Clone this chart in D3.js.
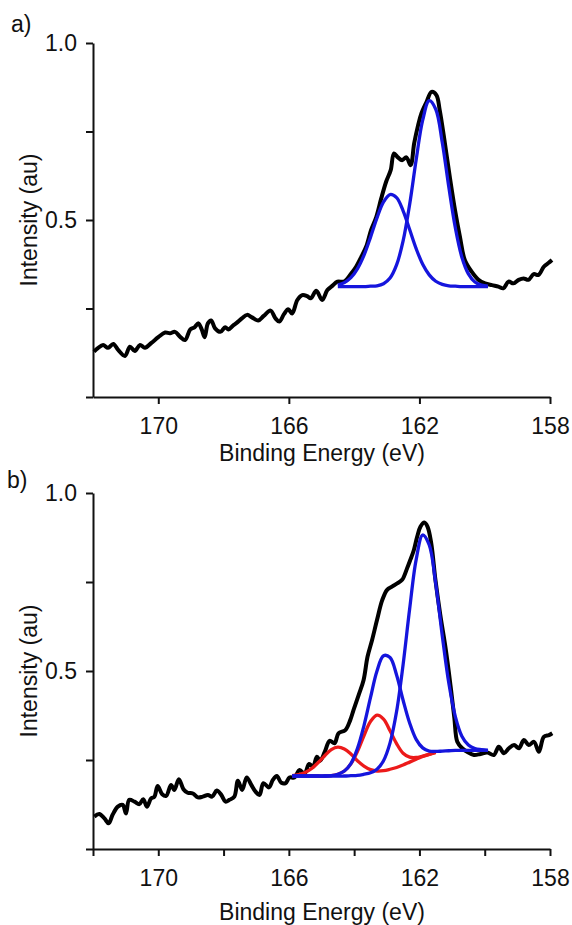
<!DOCTYPE html>
<html>
<head>
	<meta charset="UTF-8" />
	<title>XPS S 2p</title>
	<script src="https://d3js.org/d3.v7.min.js"></script>
	<style>
		body { margin: 0; background: #fff; }
		text { font-family: "Liberation Sans", Arial, sans-serif; }
	</style>
</head>
<body>
	<svg id="chart" style="width:572px; height:925px"></svg>

	<script type="text/javascript">

	//========================================================================
	// data
	//========================================================================
	var xLabelTicks = [170, 166, 162, 158]
	var xMinorTicksB = [172, 170, 168, 166, 164, 162, 160, 158]
	var yTicks = [0, 0.25, 0.5, 0.75, 1.0]
	var yLabelTicks = [0.5, 1.0]

	// panel a, measured spectrum
	var energyA = [171.97,171.85,171.69,171.54,171.38,171.23,171.02,170.87,170.72,170.56,
		170.41,170.21,170.00,169.79,169.64,169.49,169.33,169.18,169.02,168.89,
		168.77,168.67,168.58,168.48,168.38,168.26,168.10,167.95,167.85,167.72,
		167.59,167.44,167.28,167.13,166.94,166.77,166.56,166.41,166.29,166.15,
		166.02,165.90,165.74,165.59,165.44,165.33,165.16,164.98,164.82,164.67,
		164.51,164.31,164.09,163.94,163.78,163.63,163.48,163.32,163.17,163.02,
		162.88,162.78,162.66,162.53,162.40,162.27,162.16,162.04,161.94,161.78,
		161.63,161.48,161.38,161.22,161.07,160.91,160.76,160.61,160.40,160.19,
		159.99,159.78,159.58,159.43,159.27,159.12,158.96,158.81,158.66,158.50,
		158.35,158.19,158.04,157.94]
	var intensityA = [.128,.138,.147,.139,.150,.133,.116,.142,.130,.147,
		.139,.153,.169,.182,.180,.184,.170,.161,.191,.197,
		.208,.191,.169,.208,.216,.194,.184,.197,.191,.201,
		.210,.222,.232,.225,.216,.229,.244,.222,.213,.234,
		.248,.236,.274,.288,.285,.279,.300,.274,.302,.314,
		.326,.326,.349,.368,.396,.425,.472,.509,.561,.608,
		.641,.688,.677,.669,.677,.655,.717,.768,.801,.834,
		.862,.853,.811,.717,.622,.528,.453,.387,.354,.331,
		.321,.316,.312,.307,.326,.321,.331,.335,.331,.347,
		.345,.368,.379,.387]

	// panel a, fitted components
	var fitEnergyA = [164.5,164.3,164.1,163.9,163.7,163.5,163.3,163.1,162.9,162.7,162.5,162.3,
		162.1,161.9,161.7,161.5,161.3,161.1,160.9,160.7,160.5,160.3,160.1,159.9]
	var fitA1 = [.312,.312,.312,.312,.312,.313,.314,.320,.336,.373,.441,.544,
		.670,.782,.837,.813,.719,.593,.478,.395,.348,.325,.316,.313]
	var fitA2 = [.316,.323,.337,.362,.400,.451,.506,.551,.572,.563,.526,.473,
		.419,.375,.345,.327,.318,.314,.313,.312,.312,.312,.312,.312]

	// panel b, measured spectrum
	var energyB = [171.96,171.81,171.65,171.52,171.40,171.24,171.09,170.99,170.89,170.73,
		170.58,170.46,170.35,170.22,170.12,170.02,169.88,169.76,169.61,169.51,
		169.37,169.23,169.10,168.94,168.79,168.64,168.48,168.35,168.21,168.07,
		167.94,167.82,167.67,167.56,167.43,167.29,167.15,167.02,166.90,166.78,
		166.61,166.49,166.37,166.23,166.10,165.98,165.83,165.67,165.52,165.38,
		165.26,165.14,165.04,164.90,164.75,164.60,164.48,164.27,164.12,164.02,
		163.86,163.71,163.59,163.45,163.30,163.14,162.99,162.84,162.68,162.53,
		162.38,162.28,162.17,162.07,161.97,161.85,161.75,161.64,161.51,161.36,
		161.20,161.05,160.93,160.84,160.69,160.54,160.33,160.13,159.92,159.72,
		159.57,159.41,159.26,159.10,158.95,158.80,158.65,158.49,158.34,158.19,
		158.03,157.93]
	var intensityB = [.091,.098,.086,.072,.096,.119,.124,.100,.138,.133,
		.126,.140,.119,.142,.147,.177,.154,.149,.180,.166,
		.196,.168,.158,.156,.145,.147,.152,.147,.164,.152,
		.133,.138,.147,.192,.166,.201,.180,.161,.152,.185,
		.173,.194,.205,.186,.185,.201,.201,.222,.211,.239,
		.231,.259,.248,.273,.304,.297,.325,.334,.362,.390,
		.433,.475,.540,.587,.643,.699,.728,.737,.746,.756,
		.788,.812,.840,.877,.905,.917,.905,.860,.756,.657,
		.565,.461,.368,.301,.283,.273,.264,.267,.271,.264,
		.287,.269,.283,.292,.283,.306,.292,.301,.273,.315,
		.320,.325]

	// panel b, fitted components (blue pair, red pair)
	var fitEnergyB = [165.9,165.7,165.5,165.3,165.1,164.9,164.7,164.5,164.3,164.1,163.9,
		163.7,163.5,163.3,163.1,162.9,162.7,162.5,162.3,162.1,161.9,161.7,161.5,
		161.3,161.1,160.9,160.7,160.5,160.3,160.1,159.9]
	var fitB1 = [.205,.205,.205,.205,.205,.205,.205,.205,.205,.206,.207,
		.210,.214,.224,.248,.298,.386,.518,.674,.813,.882,.854,.745,
		.599,.466,.372,.317,.292,.282,.279,.277]
	var fitB2 = [.205,.205,.205,.205,.205,.205,.206,.210,.219,.240,.282,
		.346,.425,.500,.543,.538,.489,.418,.354,.308,.284,.275,.274,
		.275,.276,.277,.277,.277,.277,.277,.277]
	var fitB3 = [.205,.205,.205,.205,.205,.205,.206,.210,.219,.239,.274,
		.318,.358,.376,.365,.332,.296,.269,.258,.257,.261,.266,.271]
	var fitB4 = [.206,.209,.215,.226,.243,.262,.279,.286,.281,.267,.248,
		.233,.223,.219,.220,.224,.229,.236,.244,.252,.260,.266,.271]

	//========================================================================
	// drawing
	//========================================================================
	var svg = d3.select("#chart")
	var blue = "#1515dd"
	var red = "#ec1a1a"
	var fontSize = "23px"

	function zip(xs, ys) {
		return ys.map((v, i) => [xs[i], v])
	}

	function panel(opt) {
		var x = d3.scaleLinear().domain([172, 158]).range([93, 550])
		var y = d3.scaleLinear().domain([0, 1]).range([opt.bottom, opt.top])
		var g = svg.append("g")

		var line = d3.line()
			.x(d => x(d[0]))
			.y(d => y(d[1]))
			.curve(d3.curveCatmullRom.alpha(0.5))

		// axes
		var xAxis = d3.axisBottom(x)
			.tickValues(opt.xTicks)
			.tickSize(7)
			.tickSizeOuter(0)
			.tickPadding(14)
			.tickFormat(d => xLabelTicks.includes(d) ? d : "")
		g.append("g")
			.attr("transform", "translate(0," + opt.bottom + ")")
			.call(xAxis)

		var yAxis = d3.axisLeft(y)
			.tickValues(yTicks)
			.tickSize(7)
			.tickSizeOuter(0)
			.tickPadding(9)
			.tickFormat(d => yLabelTicks.includes(d) ? d3.format(".1f")(d) : "")
		g.append("g")
			.attr("transform", "translate(93,0)")
			.call(yAxis)

		g.selectAll(".domain, .tick line")
			.attr("stroke", "#111")
			.attr("stroke-width", 2)
		g.selectAll(".tick text")
			.attr("fill", "#111")
			.style("font-size", fontSize)
			.style("font-family", "'Liberation Sans', Arial, sans-serif")

		// spectrum
		g.append("path")
			.datum(zip(opt.energy, opt.intensity))
			.attr("d", line)
			.attr("fill", "none")
			.attr("stroke", "#000")
			.attr("stroke-width", 4)
			.attr("stroke-linejoin", "round")

		// fitted components
		opt.fits.forEach(f => {
			g.append("path")
				.datum(zip(opt.fitEnergy, f.values))
				.attr("d", line)
				.attr("fill", "none")
				.attr("stroke", f.color)
				.attr("stroke-width", 3.3)
		})

		// titles
		g.append("text")
			.attr("x", 322)
			.attr("y", opt.bottom + opt.titleGap)
			.attr("text-anchor", "middle")
			.style("font-size", fontSize)
			.attr("fill", "#111")
			.text("Binding Energy (eV)")

		g.append("text")
			.attr("transform", "translate(37," + ((opt.top + opt.bottom) / 2) + ") rotate(-90)")
			.attr("text-anchor", "middle")
			.style("font-size", fontSize)
			.attr("fill", "#111")
			.text("Intensity (au)")

		g.append("text")
			.attr("x", opt.tagX)
			.attr("y", opt.tagY)
			.style("font-size", fontSize)
			.attr("fill", "#111")
			.text(opt.tag)
	}

	panel({
		top: 43, bottom: 397, titleGap: 64,
		xTicks: xLabelTicks,
		energy: energyA, intensity: intensityA,
		fitEnergy: fitEnergyA,
		fits: [{ values: fitA2, color: blue }, { values: fitA1, color: blue }],
		tag: "a)", tagX: 11, tagY: 32
	})

	panel({
		top: 493, bottom: 849, titleGap: 71,
		xTicks: xMinorTicksB,
		energy: energyB, intensity: intensityB,
		fitEnergy: fitEnergyB,
		fits: [
			{ values: fitB4, color: red },
			{ values: fitB3, color: red },
			{ values: fitB2, color: blue },
			{ values: fitB1, color: blue }
		],
		tag: "b)", tagX: 7, tagY: 488
	})

	</script>
</body>
</html>
